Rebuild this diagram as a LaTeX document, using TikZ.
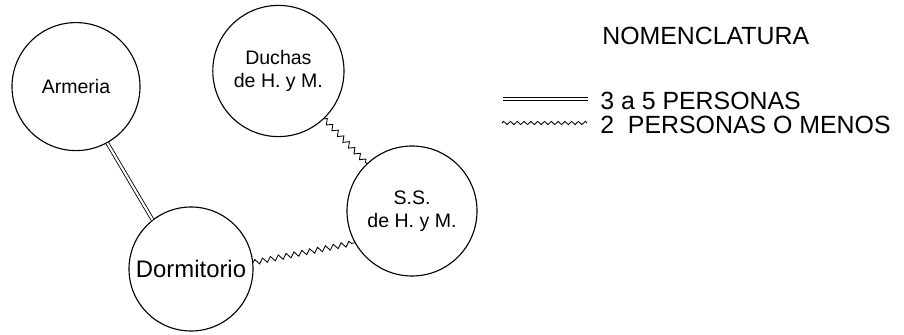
\documentclass[tikz,border=0pt]{standalone}
\usepackage{fontspec}
\setmainfont{Liberation Sans}
\usetikzlibrary{decorations.pathmorphing}

\begin{document}
\begin{tikzpicture}[
			room/.style={circle, draw, line width=0.8pt, minimum size=3.2cm, inner sep=0pt, align=center,
				font=\fontsize{13.9}{16.4}\selectfont},
			label/.style={anchor=west, inner sep=0pt, font=\fontsize{17.7}{20}\selectfont},
			muchos/.style={double, line width=0.6pt, double distance=1.5pt},
			pocos/.style={line width=0.6pt, decorate, decoration={zigzag, segment length=2mm, amplitude=0.65mm}}
		]
			\useasboundingbox (0,0) rectangle (22.6,8.375);

			% espacios
			\node[room] (arm) at (1.90,6.21) {Armeria};
			\node[room, minimum size=3.1cm, font=\fontsize{17}{20}\selectfont] (dorm) at (4.775,1.65) {Dormitorio};
			\node[room, minimum size=3.28cm] (duch) at (6.96,6.6) {Duchas\\de H. y M.};
			\node[room, minimum size=3.25cm] (ss) at (10.3,3.1) {S.S.\\de H. y M.};
			\path
				(arm.-61) edge[muchos] (dorm.128)
				(duch) edge[pocos] (ss)
				(dorm.6) edge[pocos] (ss.209);

			% nomenclatura
			\node[label] (nom) at (15.05,7.475) {NOMENCLATURA};
			\coordinate (m1) at (12.575,5.9);
			\coordinate (m2) at (14.7,5.9);
			\coordinate (p1) at (12.55,5.3);
			\coordinate (p2) at (14.675,5.3);
			\node[label] (tm) at (15.0,5.85) {3 a 5 PERSONAS};
			\node[label] (tp) at (15.0,5.25) {2\ \ PERSONAS O MENOS};
			\draw[muchos] (m1) -- (m2);
			\draw[pocos, decoration={segment length=1.7mm, amplitude=0.4mm}] (p1) -- (p2);
		\end{tikzpicture}
\end{document}
